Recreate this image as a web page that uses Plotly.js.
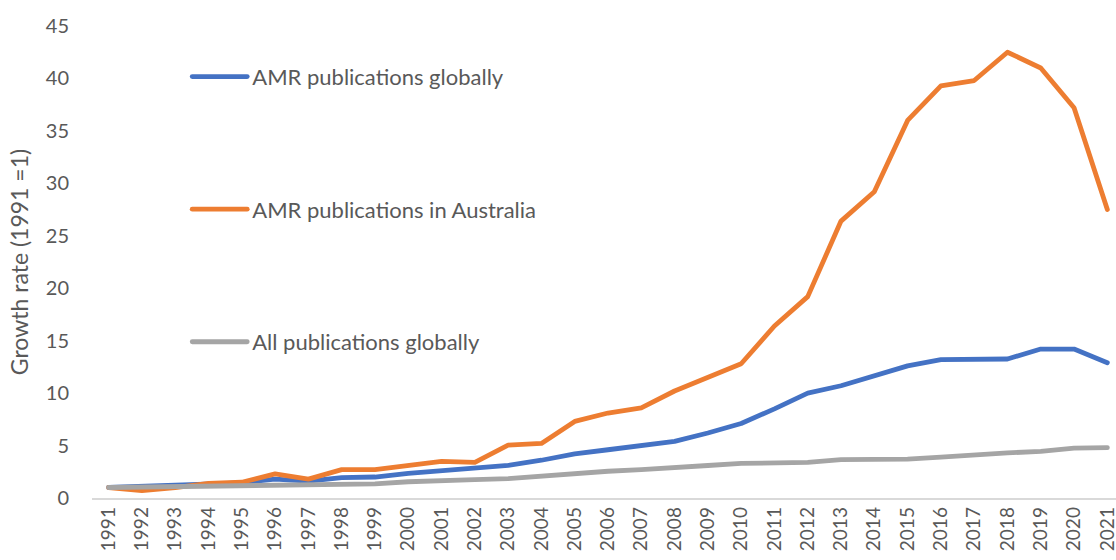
<!DOCTYPE html>
<html>
<head>
<meta charset="utf-8">
<script src="https://cdn.plot.ly/plotly-3.0.1.min.js"></script>
<style>
html,body{margin:0;padding:0;background:#fff;}
#chart{width:1116px;height:560px;}
#chart path.js-line{stroke-linecap:round;stroke-linejoin:round;}
</style>
</head>
<body>
<div id="chart"></div>
<script>
const years = ["1991","1992","1993","1994","1995","1996","1997","1998","1999","2000","2001","2002","2003","2004","2005","2006","2007","2008","2009","2010","2011","2012","2013","2014","2015","2016","2017","2018","2019","2020","2021"];
const amrGlobal = [1.0,1.1,1.2,1.3,1.45,1.8,1.6,1.95,2.0,2.35,2.6,2.8,3.1,3.6,4.2,4.6,4.95,5.4,6.2,7.1,8.5,10.0,10.7,11.7,12.6,13.2,13.2,13.25,14.2,14.2,12.9];
const amrAustralia = [1.0,0.7,1.0,1.4,1.5,2.3,1.8,2.7,2.7,3.15,3.5,3.4,5.05,5.2,7.3,8.1,8.6,10.2,11.5,12.8,16.4,19.2,26.4,29.2,36.0,39.3,39.8,42.5,41.0,37.2,27.5];
const allGlobal = [1.0,1.05,1.1,1.15,1.2,1.25,1.3,1.3,1.35,1.55,1.6,1.75,1.85,2.1,2.25,2.55,2.7,2.85,3.1,3.3,3.3,3.4,3.65,3.7,3.7,3.9,4.15,4.3,4.45,4.75,4.8];
const seriesNames = ["AMR publications globally","AMR publications in Australia","All publications globally"];
const yTicks = [0,5,10,15,20,25,30,35,40,45];

const colors = ["#4472C4","#ED7D31","#A5A5A5"];
const data = [amrGlobal, amrAustralia, allGlobal].map((v,i)=>({
  x: years, y: v, type: "scatter", mode: "lines", name: seriesNames[i],
  legendgroup: "g"+i,
  line: {color: colors[i], width: 4.8},
  hoverinfo: "skip"
}));

const layout = {
  width: 1116, height: 560,
  margin: {l: 92, r: 0, t: 26, b: 62},
  paper_bgcolor: "#fff", plot_bgcolor: "#fff",
  font: {family: "Lato, sans-serif", size: 20, color: "#595959"},
  showlegend: true,
  legend: {x: 0.093, y: 0.937, xanchor: "left", yanchor: "top", bgcolor: "rgba(0,0,0,0)",
           tracegroupgap: 101, font: {size: 22, color: "#595959"}, itemwidth: 55},
  xaxis: {type: "category", range: [-0.5, 30.26], showgrid: false, zeroline: false,
          showline: true, linecolor: "#D9D9D9", linewidth: 1.5, ticks: "",
          tickangle: -90, tickfont: {size: 19, color: "#595959"}, fixedrange: true},
  yaxis: {range: [0, 45], tickvals: yTicks, showgrid: false, zeroline: false, showline: false,
          ticks: "", ticklabelstandoff: 22, tickfont: {size: 20, color: "#595959"},
          title: {text: "Growth rate (1991 =1)", font: {size: 23, color: "#595959"}, standoff: 10},
          fixedrange: true}
};
Plotly.newPlot("chart", data, layout, {staticPlot: true});
</script>
</body>
</html>
